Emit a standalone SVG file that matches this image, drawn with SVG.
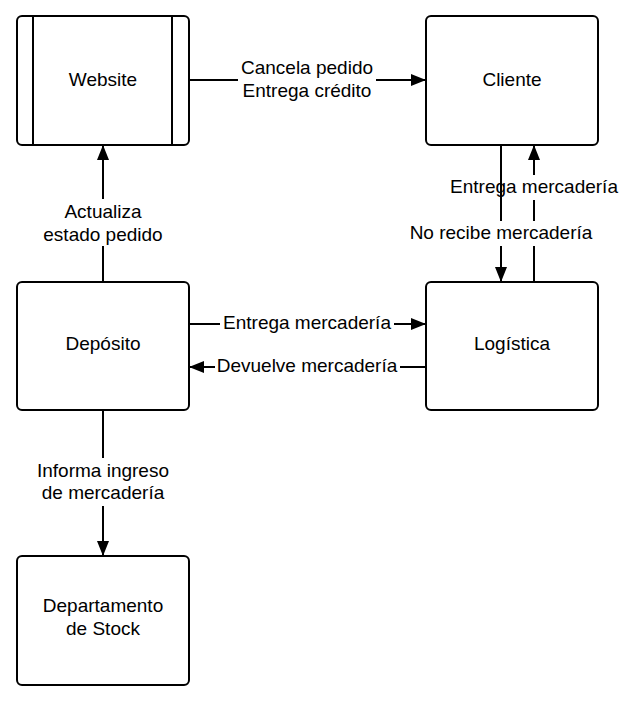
<svg xmlns="http://www.w3.org/2000/svg" width="632" height="706" viewBox="0 0 632 706">
<style>
.box{fill:#fff;stroke:#000;stroke-width:2}
.ln{fill:none;stroke:#000;stroke-width:2}
.t{font-family:"Liberation Sans",Arial,sans-serif;font-size:19px;fill:#000;text-anchor:middle}
.bg{fill:#fff}
</style>
<defs>
<marker id="ah" markerWidth="15" markerHeight="12" refX="15" refY="6" orient="auto" markerUnits="userSpaceOnUse">
<path d="M0,0 L15,6 L0,12 Z" fill="#000"/>
</marker>
</defs>
<rect width="632" height="706" fill="#fff"/>
<g id="connectors">
<g id="c-website-cliente">
<path class="ln" d="M189,80 H426" marker-end="url(#ah)"/>
<rect class="bg" x="238" y="57" width="138" height="46"/>
<text class="t" x="307" y="74">Cancela pedido</text>
<text class="t" x="307" y="97">Entrega crédito</text>
</g>
<g id="c-deposito-website">
<path class="ln" d="M103,282 V145" marker-end="url(#ah)"/>
<rect class="bg" x="38" y="199" width="130" height="47"/>
<text class="t" x="103" y="218">Actualiza</text>
<text class="t" x="103" y="241">estado pedido</text>
</g>
<g id="c-logistica-cliente">
<path class="ln" d="M534,282 V145" marker-end="url(#ah)"/>
<rect class="bg" x="447" y="175" width="174" height="25"/>
<text class="t" x="534" y="193">Entrega mercadería</text>
</g>
<g id="c-cliente-logistica">
<path class="ln" d="M501,145 V282" marker-end="url(#ah)"/>
<rect class="bg" x="407" y="221" width="189" height="25"/>
<text class="t" x="501" y="239">No recibe mercadería</text>
</g>
<g id="c-deposito-logistica">
<path class="ln" d="M189,324 H426" marker-end="url(#ah)"/>
<rect class="bg" x="220" y="313" width="174" height="22"/>
<text class="t" x="307" y="329">Entrega mercadería</text>
</g>
<g id="c-logistica-deposito">
<path class="ln" d="M426,367 H189" marker-end="url(#ah)"/>
<rect class="bg" x="215" y="355" width="185" height="22"/>
<text class="t" x="307" y="372">Devuelve mercadería</text>
</g>
<g id="c-deposito-stock">
<path class="ln" d="M103,410 V556" marker-end="url(#ah)"/>
<rect class="bg" x="32" y="458" width="142" height="48"/>
<text class="t" x="103" y="477">Informa ingreso</text>
<text class="t" x="103" y="499">de mercadería</text>
</g>
</g>
<g id="website">
<rect class="box" x="17" y="16" width="172" height="129" rx="5"/>
<line class="ln" x1="33" y1="16" x2="33" y2="145"/>
<line class="ln" x1="172" y1="16" x2="172" y2="145"/>
<text class="t" x="103" y="86">Website</text>
</g>
<g id="cliente">
<rect class="box" x="426" y="16" width="172" height="129" rx="5"/>
<text class="t" x="512" y="86">Cliente</text>
</g>
<g id="deposito">
<rect class="box" x="17" y="282" width="172" height="128" rx="5"/>
<text class="t" x="103" y="350">Depósito</text>
</g>
<g id="logistica">
<rect class="box" x="426" y="282" width="172" height="128" rx="5"/>
<text class="t" x="512" y="350">Logística</text>
</g>
<g id="stock">
<rect class="box" x="17" y="556" width="172" height="129" rx="5"/>
<text class="t" x="103" y="612">Departamento</text>
<text class="t" x="103" y="635">de Stock</text>
</g>
</svg>
